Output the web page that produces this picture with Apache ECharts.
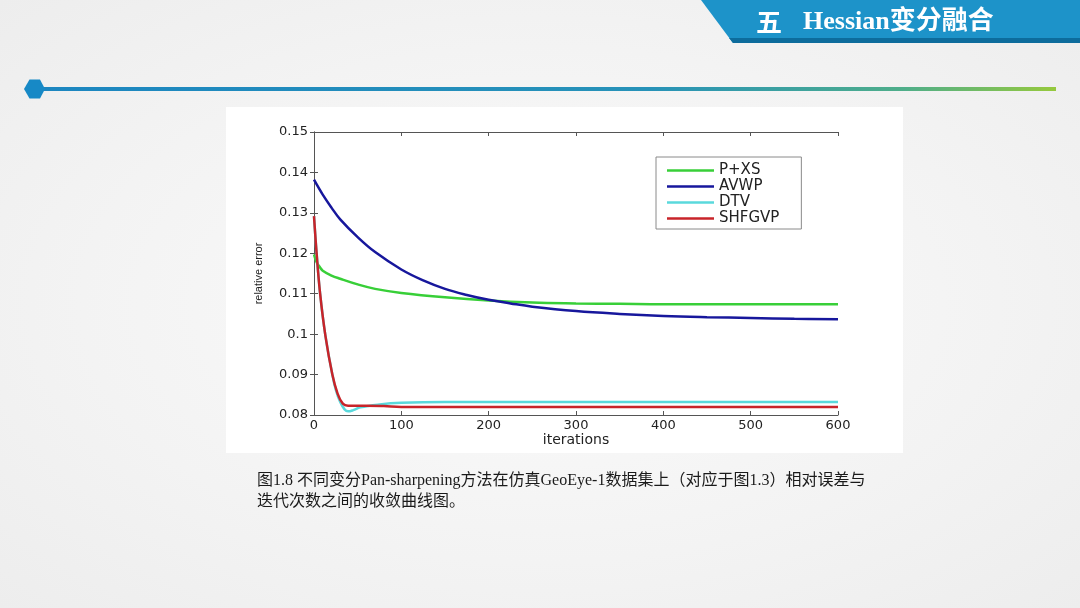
<!DOCTYPE html>
<html>
<head>
<meta charset="utf-8">
<script src="https://cdn.jsdelivr.net/npm/echarts@6/dist/echarts.min.js"></script>
<style>
  html, body { margin: 0; padding: 0; width: 1080px; height: 608px; overflow: hidden; }
  body { background: radial-gradient(ellipse at 50% 50%, #fbfbfb 0%, #f3f3f3 60%, #ededed 100%); }
  #chart { position: absolute; left: 0; top: 0; width: 1080px; height: 608px; }
</style>
</head>
<body>
<div id="chart"></div>
<script>
// ---- data ----
const seriesNames = ['P+XS', 'AVWP', 'DTV', 'SHFGVP'];

const pxsIter = [0, 3, 7, 10, 20, 30, 50, 70, 100, 150, 200, 250, 300, 350, 400, 500, 600];
const pxsErr  = [0.1197, 0.1178, 0.1165, 0.1157, 0.1145, 0.1137, 0.1123, 0.1112, 0.1102, 0.1091, 0.1083, 0.1078, 0.1076, 0.1075, 0.1074, 0.1074, 0.1074];

const avwpIter = [0, 10, 20, 30, 50, 70, 100, 125, 150, 175, 200, 225, 250, 300, 350, 400, 450, 500, 550, 600];
const avwpErr  = [0.1382, 0.1345, 0.1313, 0.1284, 0.1240, 0.1203, 0.1160, 0.1133, 0.1112, 0.1097, 0.1085, 0.1076, 0.1068, 0.1057, 0.1050, 0.1045, 0.1042, 0.1040, 0.1038, 0.1037];

const dtvIter = [0, 3, 7, 13, 21, 25, 30, 35, 39, 45, 53, 75, 100, 150, 600];
const dtvErr  = [0.1292, 0.1200, 0.1100, 0.0997, 0.0900, 0.0862, 0.0832, 0.0814, 0.0809, 0.0812, 0.0819, 0.0826, 0.0830, 0.0832, 0.0832];

const shfIter = [0, 3, 7, 13, 21, 27, 33, 39, 60, 80, 100, 600];
const shfErr  = [0.1292, 0.1200, 0.1100, 0.0997, 0.0900, 0.0853, 0.0828, 0.0823, 0.0823, 0.0822, 0.0820, 0.0820];

const xTicks = { min: 0, max: 600, interval: 100 };
const yTicks = { min: 0.08, max: 0.15, interval: 0.01 };

const headerNum = '五';
const headerTitle = 'Hessian变分融合';
const captionLines = [
  '图1.8 不同变分Pan-sharpening方法在仿真GeoEye-1数据集上（对应于图1.3）相对误差与',
  '迭代次数之间的收敛曲线图。'
];
const xName = 'iterations';
const yName = 'relative error';

// ---- build ----
const pair = (xs, ys) => xs.map((x, i) => [x, ys[i]]);
const colors = ['#38cf38', '#17179c', '#5ad9dc', '#c8242a'];
const seriesData = [pair(pxsIter, pxsErr), pair(avwpIter, avwpErr), pair(dtvIter, dtvErr), pair(shfIter, shfErr)];

const axisColor = '#555555';
const tickFont = { fontFamily: 'DejaVu Sans', fontSize: 13, color: '#222' };

const chart = echarts.init(document.getElementById('chart'), null, { renderer: 'canvas' });

const option = {
  backgroundColor: 'transparent',
  animation: false,
  grid: { left: 314, right: 242, top: 132, bottom: 193, containLabel: false },
  graphic: [
    { type: 'rect', z: -10, silent: true, shape: { x: 226, y: 107, width: 677, height: 346 }, style: { fill: '#ffffff' } },
    { type: 'polygon', z: 5, silent: true, shape: { points: [[701, 0], [1080, 0], [1080, 43], [733, 43]] }, style: { fill: '#1d93c9' } },
    { type: 'polygon', z: 6, silent: true, shape: { points: [[729, 38], [1080, 38], [1080, 43], [733, 43]] }, style: { fill: '#0d6c9c' } },
    { type: 'text', z: 7, silent: true, x: 756, y: 22, style: { text: headerNum, fill: '#ffffff', font: 'bold 26px "Noto Sans CJK SC"', verticalAlign: 'middle' } },
    { type: 'text', z: 7, silent: true, x: 803, y: 22, style: { text: headerTitle, fill: '#ffffff', font: 'bold 26px "Liberation Serif", "Noto Sans CJK SC"', verticalAlign: 'middle' } },
    { type: 'rect', z: 1, silent: true, shape: { x: 40, y: 87, width: 1016, height: 4 },
      style: { fill: new echarts.graphic.LinearGradient(0, 0, 1, 0, [
        { offset: 0, color: '#1c86c0' }, { offset: 0.6, color: '#2792b8' }, { offset: 0.85, color: '#4fae8a' }, { offset: 1, color: '#96c93d' }
      ]) } },
    { type: 'polygon', z: 2, silent: true, shape: { points: [[24, 89], [29.5, 79.5], [40, 79.5], [45, 89], [40, 98.5], [29.5, 98.5]] }, style: { fill: '#1789c6' } },
    { type: 'text', z: 3, silent: true, x: 257, y: 481, style: { text: captionLines[0], fill: '#1a1a1a', font: '16px "Liberation Serif", "Noto Sans CJK SC"', verticalAlign: 'middle' } },
    { type: 'text', z: 3, silent: true, x: 257, y: 502, style: { text: captionLines[1], fill: '#1a1a1a', font: '16px "Liberation Serif", "Noto Sans CJK SC"', verticalAlign: 'middle' } }
  ],
  legend: {
    data: seriesNames,
    orient: 'vertical',
    left: 656, top: 157,
    icon: 'rect',
    itemWidth: 47, itemHeight: 2.5, itemGap: 1,
    padding: [6, 22, 3, 11],
    backgroundColor: '#ffffff',
    borderColor: '#8a8a8a', borderWidth: 1,
    textStyle: { fontFamily: 'DejaVu Sans', fontSize: 15, lineHeight: 15, color: '#222' },
    selectedMode: false
  },
  xAxis: [
    {
      type: 'value', min: xTicks.min, max: xTicks.max, interval: xTicks.interval,
      name: xName, nameLocation: 'middle', nameGap: 17,
      nameTextStyle: { fontFamily: 'DejaVu Sans', fontSize: 14, color: '#222' },
      axisLine: { show: true, lineStyle: { color: axisColor, width: 1 } },
      axisTick: { show: true, inside: true, length: 4, lineStyle: { color: axisColor } },
      axisLabel: Object.assign({ margin: 4 }, tickFont),
      splitLine: { show: false }
    },
    {
      type: 'value', position: 'top', min: xTicks.min, max: xTicks.max, interval: xTicks.interval,
      axisLine: { show: true, lineStyle: { color: axisColor, width: 1 } },
      axisTick: { show: true, inside: true, length: 4, lineStyle: { color: axisColor } },
      axisLabel: { show: false }, splitLine: { show: false }
    }
  ],
  yAxis: [
    {
      type: 'value', min: yTicks.min, max: yTicks.max, interval: yTicks.interval,
      name: yName, nameLocation: 'middle', nameGap: 50, nameRotate: 90,
      nameTextStyle: { fontFamily: 'Liberation Sans', fontSize: 11, color: '#222' },
      axisLine: { show: true, lineStyle: { color: axisColor, width: 1 } },
      axisTick: { show: true, inside: true, length: 4, lineStyle: { color: axisColor } },
      axisLabel: Object.assign({ margin: 6, formatter: v => String(parseFloat(v.toFixed(2))) }, tickFont),
      splitLine: { show: false }
    },
    {
      type: 'value', position: 'right', min: yTicks.min, max: yTicks.max, interval: yTicks.interval,
      axisLine: { show: true, lineStyle: { color: axisColor, width: 1 } },
      axisTick: { show: true, inside: true, length: 4, lineStyle: { color: axisColor } },
      axisLabel: { show: false }, splitLine: { show: false }
    }
  ],
  series: seriesNames.map((name, i) => ({
    name: name,
    type: 'line',
    xAxisIndex: 0, yAxisIndex: 0,
    data: seriesData[i],
    showSymbol: false,
    symbol: 'none',
    smooth: 0.4,
    lineStyle: { color: colors[i], width: 2.5 },
    itemStyle: { color: colors[i] },
    z: 2 + i
  }))
};

chart.setOption(option);
</script>
</body>
</html>
